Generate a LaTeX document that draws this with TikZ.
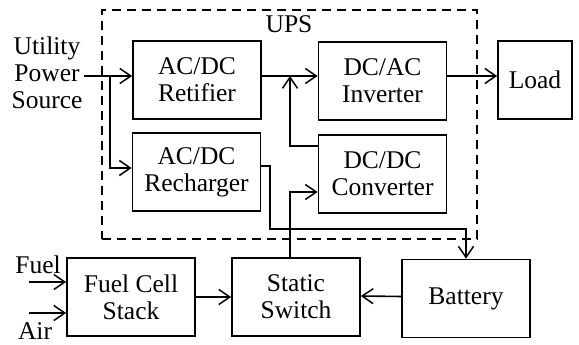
\documentclass[tikz,border=0pt]{standalone}
\usepackage{fontspec}
\setmainfont{Liberation Serif}
\usetikzlibrary{arrows.meta, positioning, calc}

\begin{document}
\begin{tikzpicture}[
    x=1pt, y=-1pt,
    font=\fontsize{25.5}{27}\selectfont,
    block/.style={
        draw=black,
        rectangle,
        minimum width=128pt,
        minimum height=78pt,
        align=center,
        inner sep=0pt,
        line width=1.7pt
    },
    upsbox/.style={
        draw=black,
        rectangle,
        minimum width=375pt,
        minimum height=229pt,
        line width=1.7pt,
        dash pattern=on 9pt off 6pt
    },
    arrow/.style={
        -{Straight Barb[length=11pt,width=15pt,line width=1.5pt]},
        line width=1.6pt,
        draw=black
    },
    label/.style={
        align=center,
        inner sep=1pt
    }
]

\useasboundingbox (0,0) rectangle (579,345);

% ============================================================
% UPS frame and its blocks
% ============================================================

\node[upsbox] (ups) at (289.5,124.5) {};
\node[label] (upsname) at (289,24) {UPS};

\node[block] (retifier)  at (197,80)    {AC/DC\\Retifier};
\node[block] (inverter)  at (382.5,81)  {DC/AC\\Inverter};
\node[block] (recharger) at (196.5,172) {AC/DC\\Recharger};
\node[block] (converter) at (382.5,174) {DC/DC\\Converter};

% ============================================================
% Outside blocks
% ============================================================

\node[block, minimum width=74pt] (load) at (535,80) {Load};
\node[block] (stack)   at (131,297)   {Fuel Cell\\Stack};
\node[block] (switch)  at (296,297)   {Static\\Switch};
\node[block] (battery) at (466,298.5) {Battery};

\node[label] (src)  at (47,73)  {Utility\\Power\\Source};
\node[label] (fuel) at (38,265) {Fuel};
\node[label] (air)  at (35,331) {Air};

\coordinate (fuelin) at (29,282);
\coordinate (airin)  at (29,313);
\coordinate (split)  at (110,76);
\coordinate (join)   at (290,76);
\coordinate (bend)   at (270,229);

% ============================================================
% Connectors
% ============================================================

\draw[arrow] ([yshift=-3pt]src.east) -- ([yshift=4pt]retifier.west);
\draw[arrow] (split) |- ([yshift=4pt]recharger.west);
\draw[arrow] ([yshift=4pt]retifier.east) -- ([yshift=5pt]inverter.west);
\draw[arrow] ([yshift=28pt]converter.west) -| (join);
\draw[arrow] ([yshift=5pt]inverter.east) -- ([yshift=4pt]load.west);

\draw[arrow] ([yshift=6pt]recharger.east) -| (bend) -| (battery.north);
\draw[arrow] ([xshift=-6pt]switch.north) |- ([yshift=-18pt]converter.west);

\draw[arrow] (fuelin) -- ([yshift=15pt]stack.west);
\draw[arrow] (airin)  -- ([yshift=-16pt]stack.west);
\draw[arrow] (stack.east) -- (switch.west);
\draw[arrow] ([yshift=2pt]battery.west) -- ([yshift=1pt]switch.east);

\end{tikzpicture}
\end{document}
